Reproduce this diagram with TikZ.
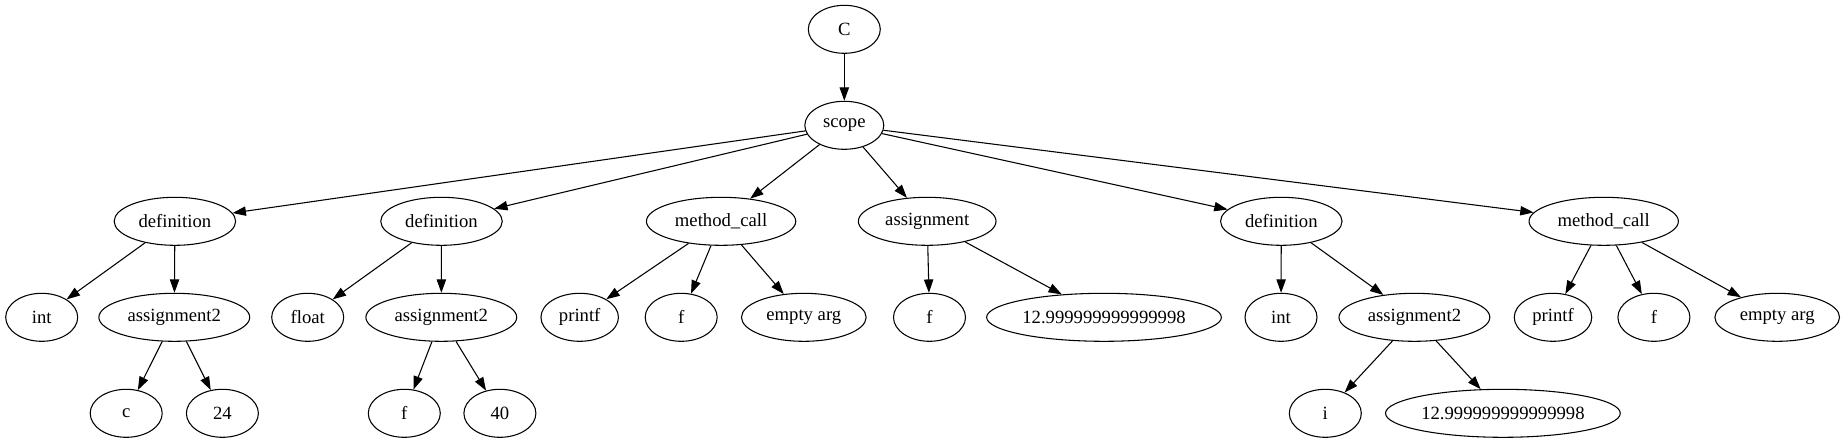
\documentclass[tikz,border=0pt]{standalone}
\usepackage{fontspec}
\setmainfont{Liberation Serif}
\usetikzlibrary{arrows.meta,shapes.geometric}

\begin{document}
\begin{tikzpicture}[x=0.75pt, y=-0.75pt, font=\fontsize{14}{16}\selectfont,
  tnode/.style={draw, ellipse, line width=0.8pt, inner xsep=5pt, inner ysep=2pt,
    minimum width=54pt, minimum height=36pt},
  arr/.style={-{Triangle[length=10pt, width=7pt]}, line width=0.8pt}]
\useasboundingbox (0,0) rectangle (1845,443);
% root and scope
\node[tnode] (root) at (844.3, 29.3) {C};
\node[tnode] (scope) at (844.3, 125.3) {scope};
% statements
\node[tnode] (def1) at (174.9, 221.3) {definition};
\node[tnode] (def2) at (441.5, 221.3) {definition};
\node[tnode] (call1) at (721.1, 221.3) {method\_call};
\node[tnode] (asg) at (927.2, 221.3) {assignment};
\node[tnode] (def3) at (1281.3, 221.3) {definition};
\node[tnode] (call2) at (1603.7, 221.3) {method\_call};
% operands
\node[tnode] (int1) at (41.7, 317.3) {int};
\node[tnode] (asgA) at (174.3, 317.3) {assignment2};
\node[tnode] (float) at (307.7, 317.3) {float};
\node[tnode] (asgB) at (441.3, 317.3) {assignment2};
\node[tnode] (printf1) at (579.7, 317.3) {printf};
\node[tnode] (argf1) at (681.2, 317.3) {f};
\node[tnode] (empty1) at (803.8, 317.3) {empty arg};
\node[tnode] (varf) at (929.5, 317.3) {f};
\node[tnode, inner xsep=1pt] (num1) at (1104.0, 317.3) {12.999999999999998};
\node[tnode] (int3) at (1281.0, 317.3) {int};
\node[tnode] (asgC) at (1414.4, 317.3) {assignment2};
\node[tnode] (printf2) at (1553.0, 317.3) {printf};
\node[tnode] (argf2) at (1653.9, 317.3) {f};
\node[tnode] (empty2) at (1777.2, 317.3) {empty arg};
% leaves
\node[tnode] (varc) at (126.2, 413.3) {c};
\node[tnode] (n24) at (222.4, 413.3) {24};
\node[tnode] (varfB) at (404.3, 413.3) {f};
\node[tnode] (n40) at (499.9, 413.3) {40};
\node[tnode] (vari) at (1325.3, 413.3) {i};
\node[tnode, inner xsep=1pt] (num2) at (1502.9, 413.3) {12.999999999999998};
% edges
\foreach \a/\b in {root/scope, scope/def1, scope/def2, scope/call1, scope/asg,
    scope/def3, scope/call2, def1/int1, def1/asgA, asgA/varc, asgA/n24,
    def2/float, def2/asgB, asgB/varfB, asgB/n40, call1/printf1, call1/argf1,
    call1/empty1, asg/varf, asg/num1, def3/int3, def3/asgC, asgC/vari,
    asgC/num2, call2/printf2, call2/argf2, call2/empty2}
  \draw[arr] (\a) -- (\b);
\end{tikzpicture}
\end{document}
